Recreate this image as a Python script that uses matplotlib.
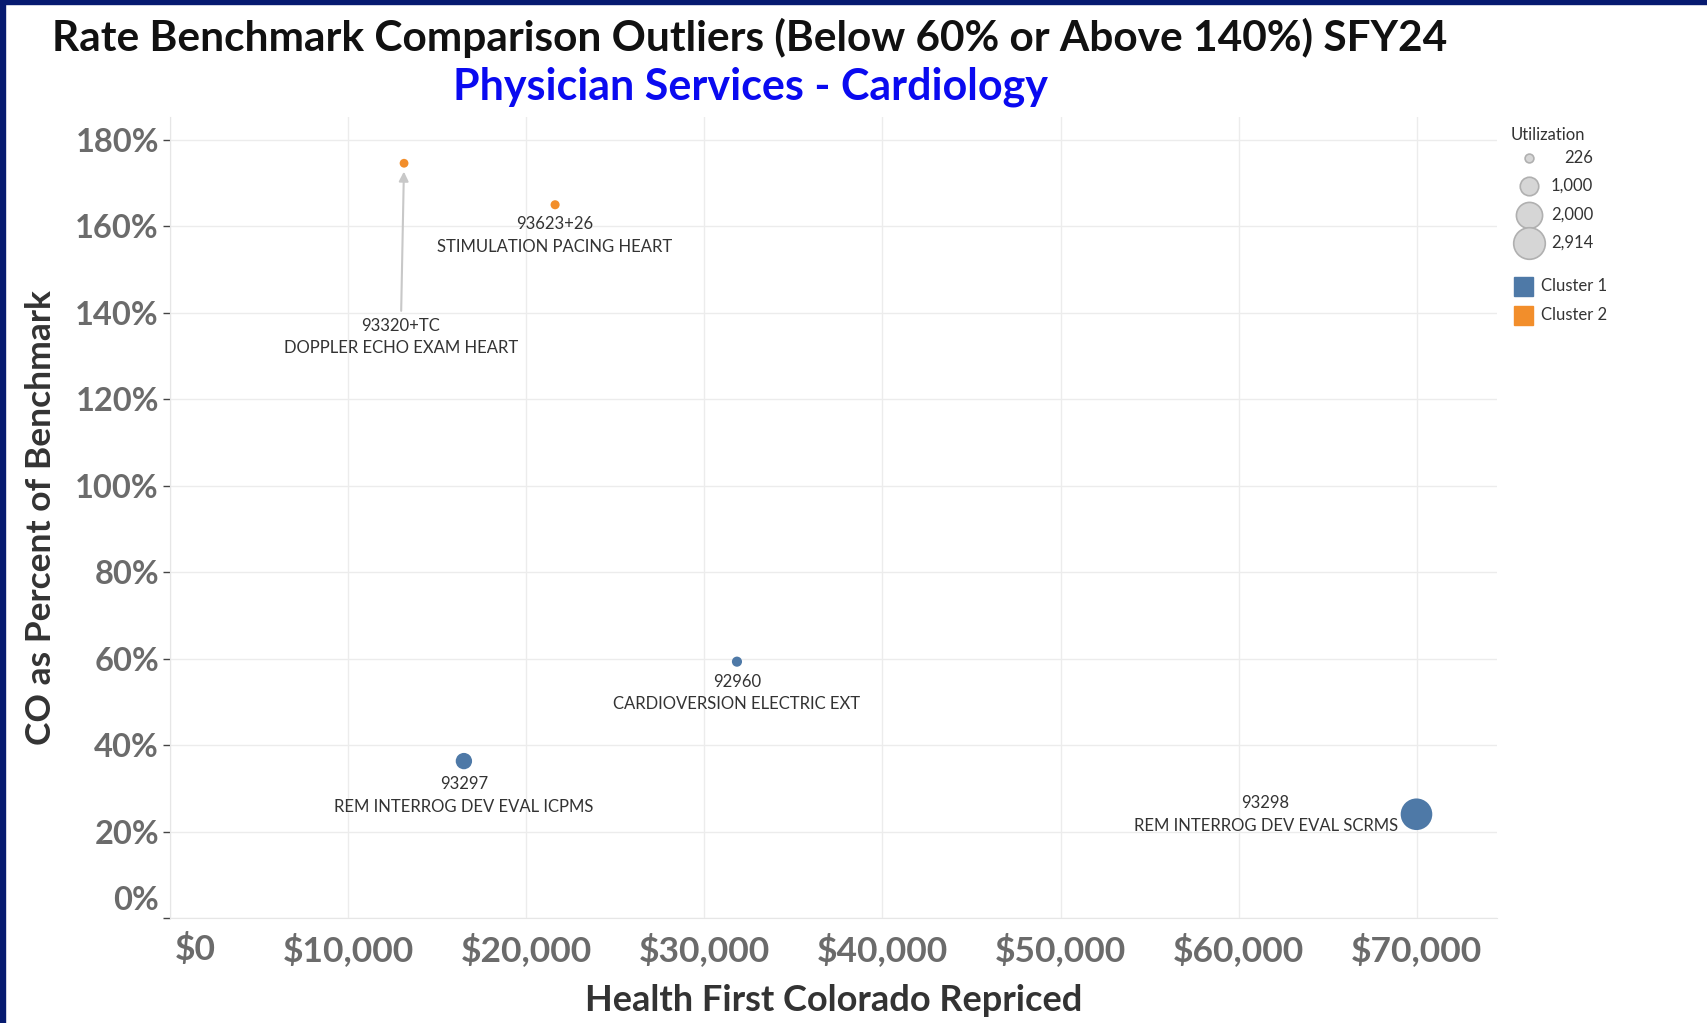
# Rate benchmark outliers scatter - Physician Services / Cardiology

import matplotlib.pyplot as plt
import matplotlib.patches as mpatches
import matplotlib.transforms as mtransforms
from matplotlib.ticker import FuncFormatter

plt.rcParams['font.family'] = ['Lato', 'DejaVu Sans']

# data
codes = ["93320+TC", "93623+26", "92960", "93297", "93298"]
descs = ["DOPPLER ECHO EXAM HEART", "STIMULATION PACING HEART",
         "CARDIOVERSION ELECTRIC EXT", "REM INTERROG DEV EVAL ICPMS",
         "REM INTERROG DEV EVAL SCRMS"]
repriced = [13140, 21620, 31830, 16500, 69980]
pct_benchmark = [174.6, 165.0, 59.3, 36.3, 24.0]
utilization = [226, 240, 300, 780, 2914]
cluster = [2, 2, 1, 1, 1]

legend_sizes = [226, 1000, 2000, 2914]
cluster_names = ["Cluster 1", "Cluster 2"]
cluster_colors = {1: "#4e79a7", 2: "#f28e2b"}

max_util = 2914
max_diam_px = 31.6


def marker_s(v):
    # area proportional to utilization, s in points^2
    return (max_diam_px * 0.72) ** 2 * v / max_util


def radius_px(v):
    return max_diam_px * (v / max_util) ** 0.5 / 2


W, H = 1707, 1023
fig = plt.figure(figsize=(W / 100, H / 100), dpi=100)
fig.patch.set_facecolor("white")

ax = fig.add_axes([170 / W, 1 - 918 / H, (1497 - 170) / W, (918 - 117) / H])
ax.set_xlim(0, 74500)
ax.set_ylim(0, 185.3)

ax.set_xticks(range(0, 70001, 10000))
ax.set_yticks(range(0, 181, 20))
ax.xaxis.set_major_formatter(FuncFormatter(lambda v, p: "${:,.0f}".format(v)))
ax.yaxis.set_major_formatter(FuncFormatter(lambda v, p: "{:.0f}%".format(v)))
ax.grid(True, color="#ececec", linewidth=1)
ax.set_axisbelow(True)
for s in ["top", "right"]:
    ax.spines[s].set_visible(False)
ax.spines["left"].set_color("#e6e6e6")
ax.spines["bottom"].set_color("#e6e6e6")

ax.tick_params(axis="x", length=0, pad=11, labelsize=25.5, labelcolor="#6b6b6b")
ax.tick_params(axis="y", length=5, width=1, color="#444444", pad=3,
               labelsize=23.5, labelcolor="#6b6b6b")
for t in ax.get_xticklabels() + ax.get_yticklabels():
    t.set_fontweight("bold")

# tableau nudges the first labels off the corner
ytk = ax.yaxis.get_major_ticks()[0].label1
ytk.set_transform(ytk.get_transform() + mtransforms.ScaledTranslation(0, 0.20, fig.dpi_scale_trans))
xtk = ax.xaxis.get_major_ticks()[0].label1
xtk.set_transform(xtk.get_transform() + mtransforms.ScaledTranslation(0.25, 0, fig.dpi_scale_trans))

ax.set_xlabel("Health First Colorado Repriced", fontsize=26, fontweight="bold",
              color="#333333", labelpad=12)
ax.set_ylabel("CO as Percent of Benchmark", fontsize=25.5, fontweight="bold",
              color="#333333", labelpad=13)

colors = [cluster_colors[c] for c in cluster]
ax.scatter(repriced, pct_benchmark, s=[marker_s(u) for u in utilization],
           c=colors, linewidths=0, zorder=3)

# point labels
lab_kw = dict(fontsize=12, color="#333333", linespacing=1.5, multialignment="center")
for i in range(len(codes)):
    txt = codes[i] + "\n" + descs[i]
    r = radius_px(utilization[i])
    if codes[i] == "93320+TC":
        ax.annotate(txt, xy=(repriced[i], pct_benchmark[i]), xytext=(12950, 134.4),
                    ha="center", va="center", **lab_kw,
                    arrowprops=dict(arrowstyle="-|>", color="#c8c8c8", lw=1.5,
                                    shrinkA=3, shrinkB=6, mutation_scale=14))
    elif codes[i] == "93298":
        ax.annotate(txt, xy=(repriced[i], pct_benchmark[i]), xytext=(-(r + 3), 0),
                    textcoords="offset pixels", ha="right", va="center", **lab_kw)
    else:
        ax.annotate(txt, xy=(repriced[i], pct_benchmark[i]), xytext=(0, -(r + 7)),
                    textcoords="offset pixels", ha="center", va="top", **lab_kw)

# overlay in pixel coords for titles, legend and frame
ov = fig.add_axes([0, 0, 1, 1], facecolor="none")
ov.set_xlim(0, W)
ov.set_ylim(H, 0)
ov.axis("off")

ov.text(750, 38, "Rate Benchmark Comparison Outliers (Below 60% or Above 140%) SFY24",
        ha="center", va="center", fontsize=30.5, fontweight="bold", color="#111111")
ov.text(750, 87, "Physician Services - Cardiology",
        ha="center", va="center", fontsize=31, fontweight="bold", color="#0a0af0")

# size legend
ov.text(1511, 135, "Utilization", ha="left", va="center", fontsize=12, color="#333333")
leg_y = [158, 186, 214.5, 243]
for v, y in zip(legend_sizes, leg_y):
    ov.scatter([1529], [y], s=marker_s(v), c="#d6d6d6", edgecolors="#b0b0b0",
               linewidths=1.2)
    ov.text(1593, y, "{:,}".format(v), ha="right", va="center", fontsize=12,
            color="#333333")

# color legend
for k, name in enumerate(cluster_names):
    y = 286 + k * 29
    ov.add_patch(mpatches.Rectangle((1514, y - 9.5), 19, 19,
                                    color=cluster_colors[k + 1]))
    ov.text(1541, y, name, ha="left", va="center", fontsize=12, color="#333333")

# navy frame on the left and top
ov.add_patch(mpatches.Rectangle((0, 0), 5, H, color="#061a70", clip_on=False))
ov.add_patch(mpatches.Rectangle((0, 0), W, 4, color="#061a70", clip_on=False))

plt.savefig("out.png", dpi=100)
